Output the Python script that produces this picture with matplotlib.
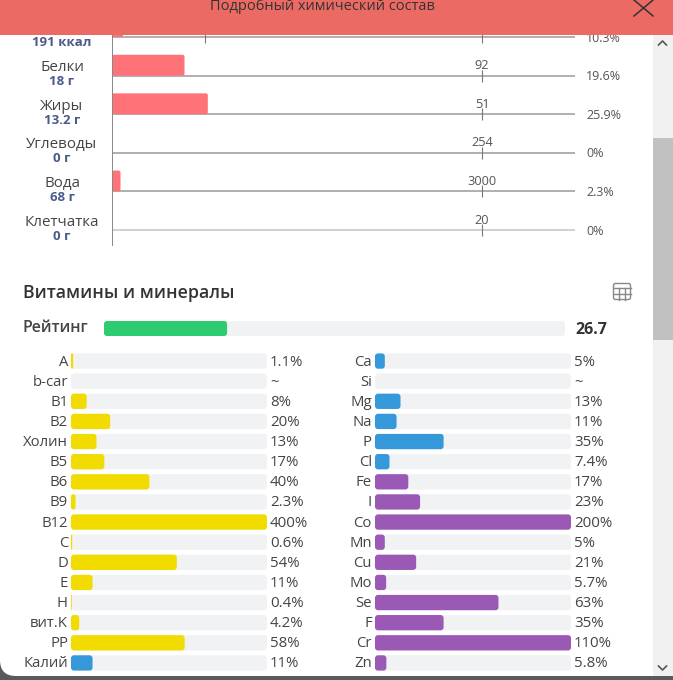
import matplotlib
matplotlib.use("Agg")
import matplotlib.pyplot as plt
from matplotlib.patches import FancyBboxPatch, Rectangle

plt.rcParams['font.family'] = ['Open Sans', 'DejaVu Sans']

W, H = 673, 680

# ---- data ----
macro_names = ['', 'Белки', 'Жиры', 'Углеводы', 'Вода', 'Клетчатка']
macro_amounts = ['191 ккал', '18 г', '13.2 г', '0 г', '68 г', '0 г']
macro_norms = ['', '92', '51', '254', '3000', '20']
macro_pct_labels = ['10.3%', '19.6%', '25.9%', '0%', '2.3%', '0%']
macro_bars = [3, 19.6, 25.9, 0, 2.3, 0]
first_row_marker = 25

rating = 26.7

left_names = ['A', 'b-car', 'B1', 'B2', 'Холин', 'B5', 'B6', 'B9', 'B12', 'C', 'D',
              'E', 'H', 'вит.K', 'PP', 'Калий']
left_values = [1.1, None, 8, 20, 13, 17, 40, 2.3, 400, 0.6, 54, 11, 0.4, 4.2, 58, 11]
left_groups = ['y'] * 15 + ['b']

right_names = ['Ca', 'Si', 'Mg', 'Na', 'P', 'Cl', 'Fe', 'I', 'Co', 'Mn', 'Cu', 'Mo',
               'Se', 'F', 'Cr', 'Zn']
right_values = [5, None, 13, 11, 35, 7.4, 17, 23, 200, 5, 21, 5.7, 63, 35, 110, 5.8]
right_groups = ['b'] * 6 + ['p'] * 10

# ---- styles ----
GROUP_COLORS = {'y': '#f2dc00', 'b': '#3498db', 'p': '#9b59b6'}
TRACK = '#f1f2f4'
TEXT = '#444444'
NAVY = '#4a5a8c'

fig = plt.figure(figsize=(W / 100, H / 100), dpi=100, facecolor='#5a5a5a')


def px_axes(x0, y0, x1, y1, z):
    ax = fig.add_axes([x0 / W, 1 - y1 / H, (x1 - x0) / W, (y1 - y0) / H], zorder=z)
    ax.patch.set_visible(False)
    for s in ax.spines.values():
        s.set_visible(False)
    ax.set_xticks([])
    ax.set_yticks([])
    return ax


def rbar(ax, y, value, h, color, px_per_x, px_per_y, radius=3.0, z=2):
    """Rounded bar from 0 to value, spanning y..y+h."""
    if value <= 0:
        return
    width_px = value * px_per_x
    r_px = min(radius, width_px / 2, h * px_per_y / 2)
    r_x = r_px / px_per_x
    asp = (r_px / px_per_y) / r_x
    ax.add_patch(FancyBboxPatch((0, y), value, h,
                                boxstyle=f'round,pad=0,rounding_size={r_x}',
                                mutation_aspect=asp, fc=color, ec='none', zorder=z,
                                clip_on=False))


def label(ax, text, x, y, dx=0, dy=0, **kw):
    ax.annotate(text, xy=(x, y), xycoords='data', xytext=(dx, -dy),
                textcoords='offset pixels', annotation_clip=False,
                va='center', **kw)


# ---- window background ----
bg = px_axes(0, 0, W, H, 0)
bg.set_xlim(0, W)
bg.set_ylim(H, 0)
bg.add_patch(FancyBboxPatch((0, -40), W + 40, 716,
                            boxstyle='round,pad=0,rounding_size=16',
                            fc='white', ec='none', clip_on=True))
bg.add_patch(Rectangle((653, 35), 20, 641, fc='#f1f1f1', ec='none'))
bg.add_patch(Rectangle((653, 138), 20, 202, fc='#c1c1c1', ec='none'))
bg.plot([658.5, 662.5, 666.5], [45, 41, 45], color='#555555', lw=1.2)
bg.plot([658.5, 662.5, 666.5], [666, 670, 666], color='#555555', lw=1.2)
bg.text(23, 292.5, 'Витамины и минералы', fontsize=12.8, fontweight='semibold',
        color='#333333', va='center', ha='left')
bg.text(23, 328.5, 'Рейтинг', fontsize=11.4, fontweight='semibold', color=TEXT,
        va='center', ha='left')
bg.text(575, 329.5, f'{rating}', fontsize=11.5, fontweight='bold', color='#333333',
        va='center', ha='left')
# table icon
bg.add_patch(FancyBboxPatch((613.5, 283.5), 17, 16,
                            boxstyle='round,pad=0,rounding_size=2',
                            fc='none', ec='#888888', lw=1))
bg.plot([613.5, 630.5], [288, 288], color='#888888', lw=1)
bg.plot([613.5, 630.5], [293.5, 293.5], color='#888888', lw=1)
bg.plot([619, 619], [288, 299.5], color='#888888', lw=1)
bg.plot([625, 625], [288, 299.5], color='#888888', lw=1)

# ---- macro chart ----
ROW0, STEP = 37.0, 38.6
PX_X = 3.7
mac = px_axes(112, 0, 575, 245, 1)
mac.set_xlim(0, (575 - 112) / PX_X)
mac.set_ylim((245 - ROW0) / STEP, -ROW0 / STEP)
mac.spines['left'].set_visible(True)
mac.spines['left'].set_color('#888888')
mac.spines['left'].set_linewidth(0.7)
tick = 6 / STEP
for i, (name, amount, norm, pct, val) in enumerate(
        zip(macro_names, macro_amounts, macro_norms, macro_pct_labels, macro_bars)):
    lc = '#c4c4c4' if i == len(macro_names) - 1 else '#9a9a9a'
    mac.hlines(i, 0, mac.get_xlim()[1], color=lc, lw=1.1, zorder=1)
    mac.vlines(100, i - tick, i + tick, color='#777777', lw=0.8, zorder=1)
    rbar(mac, i - 0.54, val, 0.54, '#ff7378', PX_X, STEP, radius=2)
    label(mac, pct, 0, i, dx=474, dy=1, ha='left', fontsize=9, color='#555555')
    label(mac, norm, 100, i, dy=-10, ha='center', fontsize=9.2, color='#555555')
    if name:
        label(mac, name, 0, i, dx=-50, dy=-8, ha='center', fontsize=10.9, color=TEXT)
    label(mac, amount, 0, i, dx=-50, dy=6, ha='center', fontsize=9.5,
          fontweight='bold', color=NAVY)
mac.vlines(first_row_marker, -tick, tick, color='#777777', lw=0.8, zorder=1)

# ---- rating ----
rat = px_axes(104, 321, 565, 336, 1)
rat.set_xlim(0, 100)
rat.set_ylim(1, 0)
rbar(rat, 0, 100, 1, TRACK, 4.61, 15, z=1)
rbar(rat, 0, rating, 1, '#2ecc71', 4.61, 15, z=2)


# ---- nutrient columns ----
def column(x0, x1, names, values, groups):
    ax = px_axes(x0, 351, x1, 673, 1)
    ax.set_xlim(0, 100)
    ax.set_ylim(len(names) - 0.5, -0.5)
    ppx = (x1 - x0) / 100
    ppy = 322 / len(names)
    h = 0.76
    for i, (n, v, g) in enumerate(zip(names, values, groups)):
        rbar(ax, i - h / 2, 100, h, TRACK, ppx, ppy, z=1)
        if v is not None:
            rbar(ax, i - h / 2, min(v, 100), h, GROUP_COLORS[g], ppx, ppy, z=2)
        label(ax, n, 0, i, dx=-3, dy=1, ha='right', fontsize=10.7, color=TEXT)
        txt = '~' if v is None else f'{v:g}%'
        label(ax, txt, 100, i, dx=3, dy=1, ha='left', fontsize=10.8, color=TEXT)


column(71, 267, left_names, left_values, left_groups)
column(375, 571, right_names, right_values, right_groups)

# ---- header ----
top = px_axes(0, 0, W, 35, 5)
top.set_xlim(0, W)
top.set_ylim(35, 0)
top.patch.set_visible(True)
top.patch.set_facecolor('#ec6a64')
top.text(322, 6.5, 'Подробный химический состав', fontsize=10.5, color='#333333',
         ha='center', va='center')
top.plot([634, 653], [0, 16], color='#333333', lw=1.1)
top.plot([653, 634], [0, 16], color='#333333', lw=1.1)

fig.savefig('out.png', dpi=100, facecolor=fig.get_facecolor())
